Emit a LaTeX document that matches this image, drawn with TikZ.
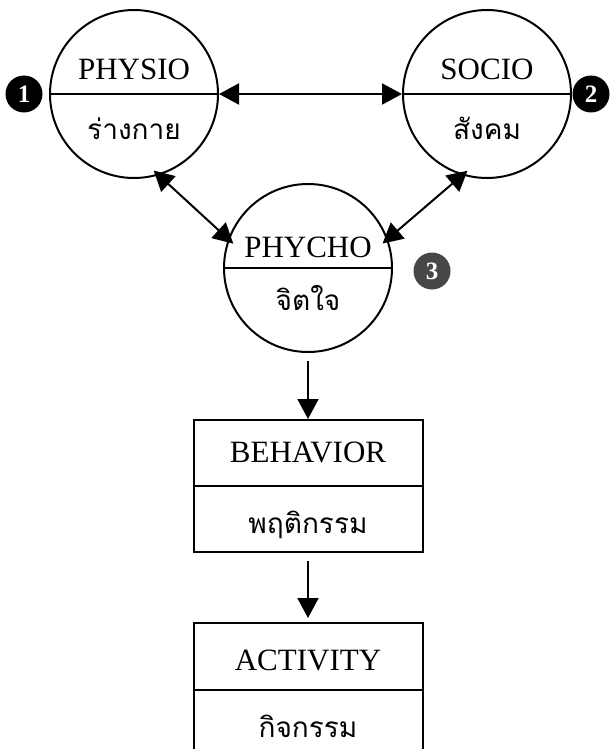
\documentclass[tikz,border=0pt]{standalone}
\usepackage{fontspec}
\setmainfont{Liberation Serif}
\newfontfamily\thaifont[Script=Thai]{Loma}
\usetikzlibrary{arrows.meta}
\tikzset{
    bigcirc/.style={circle, draw, line width=1pt, minimum size=84pt, inner sep=0pt},
    badge/.style={circle, fill=black, text=white, minimum size=18.5pt, inner sep=0pt, font=\bfseries\fontsize{12.5}{13}\selectfont},
    twobox/.style={rectangle, draw, line width=1pt, minimum width=114.5pt, minimum height=66pt},
    lbl/.style={anchor=base, inner sep=0pt, font=\fontsize{15.5}{16}\selectfont},
    thlbl/.style={anchor=base, inner sep=0pt, font=\thaifont\fontsize{14}{15}\selectfont},
    sep/.style={line width=1pt},
    link/.style={line width=1pt, {Triangle[length=10pt,width=10.5pt]}-{Triangle[length=10pt,width=10.5pt]}},
    flow/.style={line width=1pt, -{Triangle[length=10pt,width=10.5pt]}, shorten <=4pt}
}

\begin{document}
\begin{tikzpicture}[x=0.5pt, y=-0.5pt]
        \useasboundingbox (0,0) rectangle (611,749);
        \clip (0,0) rectangle (611,749);

        \def\y{94}
        \node[bigcirc] (physio) at (134,\y) {};
        \draw[sep] (physio.west) -- (physio.east);
        \node[lbl] (physioT) at (134,\y-14) {PHYSIO};
        \node[thlbl] (physioB) at (134,\y+46) {ร่างกาย};
        \node[badge] (b1) at (24,\y) {1};

        \node[bigcirc] (socio) at (487,\y) {};
        \draw[sep] (socio.west) -- (socio.east);
        \node[lbl] (socioT) at (487,\y-14) {SOCIO};
        \node[thlbl] (socioB) at (487,\y+46) {สังคม};
        \node[badge] (b2) at (591,\y) {2};

        \def\y{268}
        \node[bigcirc] (phycho) at (308,\y) {};
        \draw[sep] (phycho.west) -- (phycho.east);
        \node[lbl] (phychoT) at (308,\y-11) {PHYCHO};
        \node[thlbl] (phychoB) at (308,\y+42) {จิตใจ};
        \node[badge, fill=black!72] (b3) at (432,\y+3) {3};

        \draw[link] (physio.east) -- (socio.west);
        \draw[link, shorten <=-3.5pt, shorten >=-3.5pt] (physio.-73) -- (phycho.160);
        \draw[link, shorten <=-3.5pt, shorten >=-3.5pt] (socio.-107) -- (phycho.20);

        \def\y{486}
        \node[twobox] (behavior) at (308,\y) {};
        \draw[sep] (behavior.west) -- (behavior.east);
        \node[lbl] (behaviorT) at (308,\y-24) {BEHAVIOR};
        \node[thlbl] (behaviorB) at (308,\y+47) {พฤติกรรม};

        \def\y{690}
        \node[twobox, minimum height=67pt] (activity) at (308,\y) {};
        \draw[sep] (activity.west) -- (activity.east);
        \node[lbl] (activityT) at (308,\y-20) {ACTIVITY};
        \node[thlbl] (activityB) at (308,\y+47) {กิจกรรม};

        \draw[flow] (phycho.south) -- (behavior.north);
        \draw[flow, shorten >=2pt] (behavior.south) -- (activity.north);
\end{tikzpicture}
\end{document}
